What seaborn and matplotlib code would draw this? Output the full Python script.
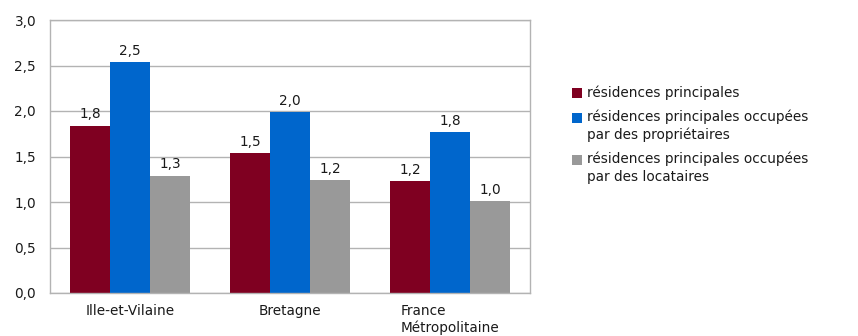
import matplotlib
matplotlib.use("Agg")
import matplotlib.pyplot as plt
from matplotlib.patches import Rectangle
import seaborn as sns
import pandas as pd

# Average household size by territory and tenure
territoires = ["Ille-et-Vilaine", "Bretagne", "France\nMétropolitaine"]
series = [
    "résidences principales",
    "résidences principales occupées\npar des propriétaires",
    "résidences principales occupées\npar des locataires",
]
ensemble = [1.84, 1.54, 1.23]
proprietaires = [2.54, 1.99, 1.77]
locataires = [1.29, 1.24, 1.01]
couleurs = ["#7f0021", "#0066cc", "#999999"]
yticks = [0.0, 0.5, 1.0, 1.5, 2.0, 2.5, 3.0]

df = pd.DataFrame({
    "territoire": territoires * 3,
    "serie": [series[0]] * 3 + [series[1]] * 3 + [series[2]] * 3,
    "valeur": ensemble + proprietaires + locataires,
})

sns.set_style("white")
plt.rcParams["font.family"] = ["DejaVu Sans"]
txt = "#1a1a1a"
fs = 9.8
W, H = 858, 336

fig = plt.figure(figsize=(W / 100, H / 100), dpi=100)
ax = fig.add_axes([50 / W, 43 / H, 480 / W, 273 / H])

sns.barplot(data=df, x="territoire", y="valeur", hue="serie",
            hue_order=series, order=territoires, palette=couleurs,
            width=0.75, saturation=1, errorbar=None, legend=False, ax=ax,
            linewidth=0)

for cont in ax.containers:
    labels = [f"{b.get_height():.1f}".replace(".", ",") for b in cont]
    ax.bar_label(cont, labels=labels, padding=3, fontsize=fs, color=txt)

ax.set_ylim(0, 3.0)
ax.set_xlim(-0.5, 2.5)
ax.set_yticks(yticks)
ax.set_yticklabels([f"{v:.1f}".replace(".", ",") for v in yticks],
                   fontsize=fs, color=txt)
ax.yaxis.grid(True, color="#b3b3b3", linewidth=1)
ax.set_axisbelow(True)
ax.set_xlabel("")
ax.set_ylabel("")

ax.set_xticks([0, 1, 2])
ax.set_xticklabels(territoires, fontsize=fs, color=txt,
                   multialignment="left", va="top")
ax.set_xticks([-0.5, 0.5, 1.5, 2.5], minor=True)
ax.tick_params(axis="x", which="major", length=0, pad=8)
ax.tick_params(axis="x", which="minor", length=7, width=1, color="#b3b3b3")
ax.tick_params(axis="y", length=8, width=1, color="#b3b3b3", pad=2)

for side in ["left", "right", "bottom", "top"]:
    ax.spines[side].set_color("#b3b3b3")
    ax.spines[side].set_linewidth(1)

# Legend: colour key aligned with the first line of each entry
row_tops = [93, 118, 160]
for label, color, yc in zip(series, couleurs, row_tops):
    fig.patches.append(Rectangle(((572) / W, 1 - (yc + 5) / H), 10 / W, 10 / H,
                                 transform=fig.transFigure, facecolor=color,
                                 edgecolor="none"))
    fig.text(587 / W, 1 - (yc - 8) / H, label, fontsize=fs, color=txt,
             ha="left", va="top", linespacing=1.3)

fig.savefig("out.png", dpi=100)
